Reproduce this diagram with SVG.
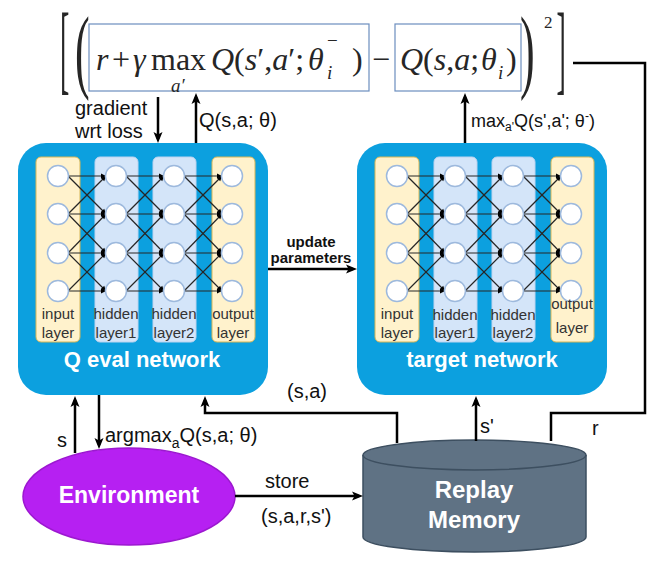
<svg xmlns="http://www.w3.org/2000/svg" width="664" height="564" viewBox="0 0 664 564">
<defs>
<style>
.conn{fill:none;stroke:#000;stroke-width:2.5}
.arr{marker-end:url(#ah)}
.lbl{font-family:"Liberation Sans",Arial,sans-serif;fill:#111}
.math{font-family:"Liberation Serif","Times New Roman","DejaVu Serif",serif;fill:#262626}
.it{font-style:italic}
.nlbl{font-family:"Liberation Sans",Arial,sans-serif;fill:#333;text-anchor:middle}
.title{font-family:"Liberation Sans",Arial,sans-serif;font-weight:bold;fill:#fff;text-anchor:middle}
.netbox{fill:#0ca0df}
.io{fill:#fff2cc;stroke:#d6b656;stroke-width:1}
.hid{fill:#d4e5f9;stroke:#bcd3ef;stroke-width:1}
.nd{fill:#fff;stroke:#9db9dd;stroke-width:1.5}
.ed{stroke:#262626;stroke-width:1.2;marker-end:url(#sm)}
.fbox{fill:none;stroke:#6c8ebf;stroke-width:1.2}
</style>
<marker id="ah" markerUnits="userSpaceOnUse" markerWidth="12" markerHeight="10" refX="7" refY="5" orient="auto"><path d="M0,0.5 L11,5 L0,9.5 L2.5,5 z" fill="#000"/></marker>
<marker id="sm" markerUnits="userSpaceOnUse" markerWidth="6" markerHeight="6" refX="5" refY="3" orient="auto"><path d="M0,0.5 L5,3 L0,5.5 z" fill="#000"/></marker>
<g id="layers">
<rect class="io" x="36" y="157" width="44" height="185" rx="5"/>
<rect class="hid" x="95" y="157" width="43" height="185" rx="5"/>
<rect class="hid" x="153" y="157" width="43" height="185" rx="5"/>
<rect class="io" x="212" y="157" width="43" height="185" rx="5"/>
<g id="edges1">
<line class="ed" x1="68" y1="176" x2="106" y2="176"/>
<line class="ed" x1="68" y1="176" x2="106" y2="214"/>
<line class="ed" x1="68" y1="214" x2="106" y2="176"/>
<line class="ed" x1="68" y1="214" x2="106" y2="214"/>
<line class="ed" x1="68" y1="214" x2="106" y2="253"/>
<line class="ed" x1="68" y1="253" x2="106" y2="214"/>
<line class="ed" x1="68" y1="253" x2="106" y2="253"/>
<line class="ed" x1="68" y1="253" x2="106" y2="291"/>
<line class="ed" x1="68" y1="291" x2="106" y2="253"/>
<line class="ed" x1="68" y1="291" x2="106" y2="291"/>
</g>
<use href="#edges1" x="58"/>
<use href="#edges1" x="116"/>
<g id="col1">
<circle class="nd" cx="58" cy="176" r="10.5"/>
<circle class="nd" cx="58" cy="214" r="10.5"/>
<circle class="nd" cx="58" cy="253" r="10.5"/>
<circle class="nd" cx="58" cy="291" r="10.5"/>
</g>
<use href="#col1" x="58"/>
<use href="#col1" x="116"/>
<use href="#col1" x="174"/>
</g>
</defs>

<g id="formula">
<rect class="fbox" x="89" y="24" width="280" height="67"/>
<rect class="fbox" x="395" y="24" width="126" height="67"/>
<text class="math" font-size="28" transform="translate(60,82) scale(1,3.53)">[</text>
<text class="math" font-size="28" transform="translate(556.5,82) scale(1,3.53)">]</text>
<text class="math" font-size="44" transform="translate(75,81) scale(1,2.1)">(</text>
<text class="math" font-size="44" transform="translate(520,81) scale(1,2.1)">)</text>
<text class="math" font-size="17" x="544" y="28">2</text>
<text class="math" font-size="32" y="70"><tspan class="it" x="96">r</tspan><tspan x="112">+</tspan><tspan class="it" x="133">γ</tspan><tspan x="151">max</tspan><tspan class="it" x="211">Q</tspan><tspan>(</tspan><tspan class="it">s</tspan><tspan>′,</tspan><tspan class="it">a</tspan><tspan>′;</tspan><tspan class="it" dx="4">θ</tspan></text>
<text class="math it" font-size="19" x="171" y="92">a′</text>
<text class="math it" font-size="19" x="327" y="79">i</text>
<text class="math" font-size="19" x="327" y="47">−</text>
<text class="math" font-size="32" x="352" y="70">)</text>
<text class="math" font-size="32" x="372" y="70">−</text>
<text class="math" font-size="32" y="70"><tspan class="it" x="400">Q</tspan><tspan>(</tspan><tspan class="it">s</tspan><tspan>,</tspan><tspan class="it">a</tspan><tspan>;</tspan><tspan class="it" dx="2">θ</tspan></text>
<text class="math it" font-size="19" x="498" y="79">i</text>
<text class="math" font-size="32" x="506" y="70">)</text>
</g>

<g id="q-eval-network">
<rect class="netbox" x="18" y="143" width="250" height="252" rx="28"/>
<use href="#layers"/>
<text class="nlbl" font-size="15" x="58" y="319">input</text>
<text class="nlbl" font-size="15" x="58" y="338">layer</text>
<text class="nlbl" font-size="15" x="116" y="319">hidden</text>
<text class="nlbl" font-size="15" x="116" y="338">layer1</text>
<text class="nlbl" font-size="15" x="174" y="319">hidden</text>
<text class="nlbl" font-size="15" x="174" y="338">layer2</text>
<text class="nlbl" font-size="15" x="233" y="319">output</text>
<text class="nlbl" font-size="15" x="233" y="338">layer</text>
<text class="title" font-size="22" x="142" y="367">Q eval network</text>
</g>

<g id="target-network">
<rect class="netbox" x="357" y="143" width="250" height="252" rx="28"/>
<use href="#layers" x="339"/>
<text class="nlbl" font-size="15" x="397" y="319">input</text>
<text class="nlbl" font-size="15" x="397" y="338">layer</text>
<text class="nlbl" font-size="15" x="455" y="320">hidden</text>
<text class="nlbl" font-size="15" x="455" y="338">layer1</text>
<text class="nlbl" font-size="15" x="513" y="320">hidden</text>
<text class="nlbl" font-size="15" x="513" y="338">layer2</text>
<text class="nlbl" font-size="15" x="572" y="309">output</text>
<text class="nlbl" font-size="15" x="572" y="333">layer</text>
<text class="title" font-size="22" x="482" y="367">target network</text>
</g>

<g id="environment">
<ellipse cx="129" cy="496.5" rx="106" ry="48.5" fill="#b620f2" stroke="#9c18d0" stroke-width="1.5"/>
<text class="title" font-size="23" x="129" y="503">Environment</text>
</g>

<g id="replay-memory">
<path d="M363,455 L363,537 A111.5,15 0 0 0 586,537 L586,455 A111.5,15 0 0 0 363,455 Z" fill="#5f7284" stroke="#3d4f60" stroke-width="1.5"/>
<path d="M363,455 A111.5,15 0 0 0 586,455" fill="none" stroke="#3d4f60" stroke-width="1.5"/>
<text class="title" font-size="24" x="474" y="498">Replay</text>
<text class="title" font-size="24" x="474" y="528">Memory</text>
</g>

<g id="connectors">
<line class="conn arr" x1="158" y1="97" x2="158" y2="139"/>
<line class="conn arr" x1="196" y1="143" x2="196" y2="97"/>
<line class="conn arr" x1="465" y1="143" x2="465" y2="97"/>
<line class="conn arr" x1="268" y1="269" x2="353" y2="269"/>
<polyline class="conn" points="551,441 551,413 645,413 645,63 573,63"/>
<polyline class="conn arr" points="397,443 397,413 205,413 205,400"/>
<line class="conn arr" x1="476" y1="441" x2="476" y2="400"/>
<line class="conn arr" x1="75" y1="453" x2="75" y2="400"/>
<line class="conn arr" x1="99" y1="395" x2="99" y2="445"/>
<line class="conn arr" x1="235" y1="496" x2="359" y2="496"/>
</g>

<g id="connector-labels">
<text class="lbl" font-size="20" x="75" y="115">gradient</text>
<text class="lbl" font-size="20" x="75" y="138">wrt loss</text>
<text class="lbl" font-size="20" x="199" y="127">Q(s,a; θ)</text>
<text class="lbl" font-size="18" x="471" y="127">max<tspan font-size="12" dy="4">a'</tspan><tspan dy="-4">Q(s',a'; θ</tspan><tspan font-size="12" dy="-7">-</tspan><tspan dy="7">)</tspan></text>
<text class="lbl" font-weight="bold" font-size="15" text-anchor="middle" x="311" y="247">update</text>
<text class="lbl" font-weight="bold" font-size="15" text-anchor="middle" x="311" y="263">parameters</text>
<text class="lbl" font-size="20" x="287" y="398">(s,a)</text>
<text class="lbl" font-size="20" x="57" y="447">s</text>
<text class="lbl" font-size="20" x="105" y="442">argmax<tspan font-size="14" dy="6">a</tspan><tspan dy="-6">Q(s,a; θ)</tspan></text>
<text class="lbl" font-size="20" x="265" y="488">store</text>
<text class="lbl" font-size="20" x="261" y="523">(s,a,r,s')</text>
<text class="lbl" font-size="20" x="480" y="433">s'</text>
<text class="lbl" font-size="20" x="592" y="435">r</text>
</g>
</svg>
